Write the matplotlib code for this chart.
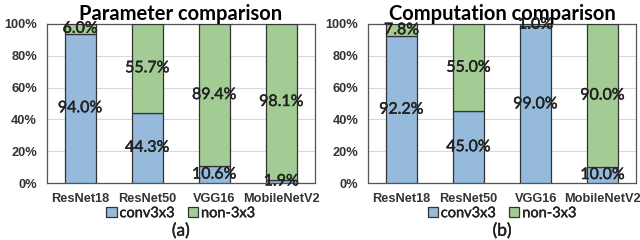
import matplotlib.pyplot as plt
import matplotlib.patheffects as pe
import numpy as np
from matplotlib.ticker import PercentFormatter

models = ["ResNet18", "ResNet50", "VGG16", "MobileNetV2"]
param_conv = [94.0, 44.3, 10.6, 1.9]
param_non = [6.0, 55.7, 89.4, 98.1]
comp_conv = [92.2, 45.0, 99.0, 10.0]
comp_non = [7.8, 55.0, 1.0, 90.0]

BLUE = "#95BADC"
GREEN = "#A2CC94"
plt.rcParams['font.family'] = ['Lato', 'DejaVu Sans']
TICKFONT = ['Liberation Sans', 'DejaVu Sans']
thick = [pe.withStroke(linewidth=0.3, foreground="#222222")]

fig = plt.figure(figsize=(6.4, 2.4), dpi=100)
panels = [
    (fig.add_axes([0.073, 0.2375, 0.419, 0.6625]), "Parameter comparison", param_conv, param_non, "(a)"),
    (fig.add_axes([0.575, 0.2375, 0.419, 0.6625]), "Computation comparison", comp_conv, comp_non, "(b)"),
]
x = np.arange(len(models))
for ax, title, conv, non, tag in panels:
    ax.bar(x, conv, 0.46, color=BLUE, edgecolor="#333333", linewidth=0.9, label="conv3x3", zorder=3)
    ax.bar(x, non, 0.46, bottom=conv, color=GREEN, edgecolor="#333333", linewidth=0.9, label="non-3x3", zorder=3)
    for i in range(len(models)):
        ax.text(x[i], conv[i] / 2, f"{conv[i]:.1f}%", ha="center", va="center", fontsize=11.5,
                color="#222222", zorder=4, path_effects=thick)
        ax.text(x[i], conv[i] + non[i] / 2, f"{non[i]:.1f}%", ha="center", va="center", fontsize=11.5,
                color="#222222", zorder=4, path_effects=thick)
    ax.set_xlim(-0.5, 3.5)
    ax.set_ylim(0, 100)
    ax.set_yticks(range(0, 101, 20))
    ax.yaxis.set_major_formatter(PercentFormatter(100, decimals=0))
    ax.set_xticks(x)
    ax.set_xticklabels(models)
    ax.tick_params(length=0, labelsize=9.2, pad=7)
    for lab in ax.get_xticklabels() + ax.get_yticklabels():
        lab.set_fontweight("bold")
        lab.set_family(TICKFONT)
        lab.set_color("#333333")
    ax.grid(axis="y", color="#d9d9d9", linewidth=0.8, zorder=0)
    for s in ax.spines.values():
        s.set_color("#555555")
        s.set_linewidth(0.9)
    ax.set_title(title, fontsize=14.5, fontweight="bold", pad=3)
    leg = ax.legend(loc="center", bbox_to_anchor=(0.5, -0.19), ncol=2, frameon=False,
                    prop={'size': 10.5},
                    handlelength=0.7, handleheight=0.7, handletextpad=0.2, columnspacing=0.9, borderpad=0)
    for t in leg.get_texts():
        t.set_path_effects(thick)
        t.set_color("#222222")
    ax.text(0.5, -0.30, tag, transform=ax.transAxes, ha="center", va="center", fontsize=12.5,
            color="#222222", path_effects=thick)

fig.savefig("out.png", dpi=100)
